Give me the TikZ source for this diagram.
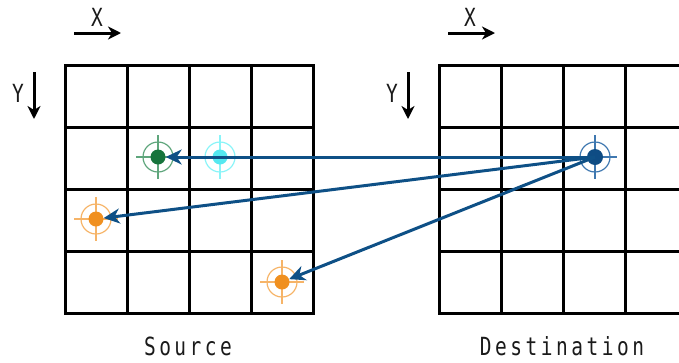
\documentclass[tikz,border=0pt]{standalone}
\usepackage{fontspec}
\usetikzlibrary{arrows.meta}
\newfontfamily\monofont[FakeStretch=0.78,LetterSpace=14]{DejaVu Sans Mono}
\definecolor{conncol}{HTML}{0E5086}
\definecolor{greendot}{HTML}{17743C}
\definecolor{greenring}{HTML}{5FA67C}
\definecolor{cyandot}{HTML}{55E8F0}
\definecolor{cyanring}{HTML}{8AF4F8}
\definecolor{orangedot}{HTML}{F09020}
\definecolor{orangering}{HTML}{F6B468}
\definecolor{bluedot}{HTML}{0E4C84}
\definecolor{bluering}{HTML}{3F78B0}
\definecolor{textcol}{HTML}{1A1A1A}
\tikzset{
  gridline/.style={line width=3pt, line cap=rect},
  axisarrow/.style={line width=3pt, -{Stealth[length=13pt,width=13pt,inset=4pt]}},
  conn/.style={conncol, line width=3pt, -{Stealth[length=16pt,width=15pt,inset=5pt]}},
  dot/.style={circle, fill=#1, minimum size=15pt, inner sep=0pt},
  axislabel/.style={text=textcol, font=\monofont\fontsize{25}{25}\selectfont, anchor=base, inner sep=0pt},
  caption/.style={text=textcol, font=\monofont\fontsize{25}{25}\selectfont, anchor=base, inner sep=0pt},
}
\begin{document}
\begin{tikzpicture}[x=1pt,y=-1pt]
\useasboundingbox (0,0) rectangle (679,362);
\clip (0,0) rectangle (679,362);
% grids
\foreach \i in {0,...,4} {
  \draw[gridline] (65+62*\i,65) -- (65+62*\i,313);
  \draw[gridline] (65,65+62*\i) -- (313,65+62*\i);
  \draw[gridline] (439+62*\i,65) -- (439+62*\i,313);
  \draw[gridline] (439,65+62*\i) -- (690,65+62*\i);
}
% axis arrows
\coordinate (sx0) at (74,33); \coordinate (sx1) at (121,33);
\coordinate (sy0) at (34,72); \coordinate (sy1) at (34,119);
\coordinate (dx0) at (448,33); \coordinate (dx1) at (495,33);
\coordinate (dy0) at (408,72); \coordinate (dy1) at (408,119);
\draw[axisarrow] (sx0) -- (sx1);
\draw[axisarrow] (sy0) -- (sy1);
\draw[axisarrow] (dx0) -- (dx1);
\draw[axisarrow] (dy0) -- (dy1);
\node[axislabel] (sxl) at (97,26) {X};
\node[axislabel] (syl) at (18,102) {Y};
\node[axislabel] (dxl) at (470,26) {X};
\node[axislabel] (dyl) at (392,102) {Y};
% target rings and crosses
\foreach \px/\py/\c in {158/157/greenring, 220/157/cyanring, 96/219/orangering, 282/282/orangering, 595/157/bluering} {
  \draw[\c, line width=1.2pt] (\px,\py) circle[radius=15];
  \draw[\c, line width=1.2pt] (\px-22,\py) -- (\px+22,\py) (\px,\py-22) -- (\px,\py+22);
}
% dots
\node[dot=greendot] (g) at (158,157) {};
\node[dot=cyandot] (c) at (220,157) {};
\node[dot=orangedot] (o1) at (96,219) {};
\node[dot=orangedot] (o2) at (282,282) {};
\node[dot=bluedot, minimum size=16pt] (d) at (595,157) {};
% connectors
\draw[conn] (d.center) -- (g);
\draw[conn] (d.center) -- (o1);
\draw[conn] (d.center) -- (o2);
% captions
\node[caption] (src) at (188,355) {Source};
\node[caption] (dst) at (562,355) {Destination};
\end{tikzpicture}
\end{document}
